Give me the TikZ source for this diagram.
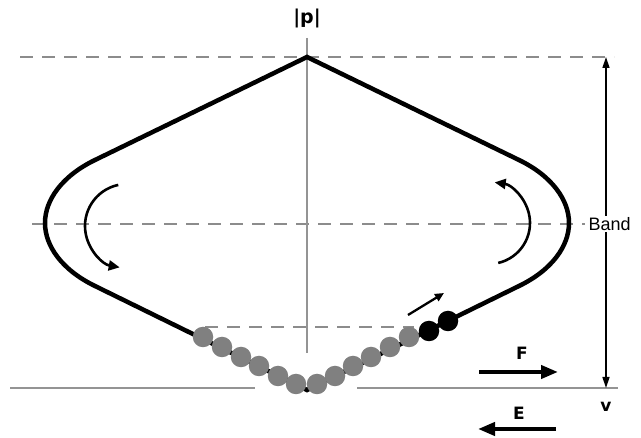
\documentclass[tikz,border=0pt]{standalone}
\usepackage{fontspec}
\newfontfamily\lblfont{DejaVu Sans}
\newfontfamily\bandfont{Liberation Sans}
\usetikzlibrary{arrows.meta}
\begin{document}
\begin{tikzpicture}[x=1pt,y=-1pt,
 gline/.style={draw=black!42,line width=1.6},
 dline/.style={draw=black!45,line width=1.8,dash pattern=on 13pt off 9pt},
 bead/.style={circle,fill=black!50,minimum size=20.5pt,inner sep=0pt},
 lbl/.style={font=\lblfont\bfseries\fontsize{17}{20}\selectfont},
 turn/.style={line width=2.6,-{Triangle[length=11pt,width=10pt]}}]
\useasboundingbox(0,0)rectangle(641,438);
\draw[dline](20,57)--(614,57);\draw[dline](32,224)--(585,224);\draw[dline](205,327)--(414,327);
\draw[gline](307,38)--(307,353);
\draw[gline](10,388)--(255,388);\draw[gline](357,388)--(618,388);
\draw[line width=4.5](307,57)--(95,160)..controls(62,176)and(45,200)..(45,223)..controls(45,246)and(62,270)..(95,286)
 --(307,390)--(519,286)..controls(552,270)and(569,246)..(569,223)..controls(569,200)and(552,176)..(519,160)--cycle;
\foreach \x/\y[count=\i] in {203/337,222/347,241/357,259/366,278/376,296/384,317/384,335/376,353/366,371/357,390/347,409/337}
 \node[bead](g\i)at(\x,\y){};
\node[bead,fill=black](k1)at(429,331){};\node[bead,fill=black](k2)at(448,321){};
\draw[turn](127,226)++(258:42)arc[start angle=258,end angle=100,radius=42];
\draw[turn](489,223)++(77:41)arc[start angle=77,end angle=-82,radius=41];
\coordinate(s1)at(408,315);\coordinate(s2)at(444,293);
\draw[line width=2.3,-{Triangle[length=9pt,width=8pt]}](s1)--(s2);
\node[lbl,font=\lblfont\bfseries\fontsize{19}{22}\selectfont](p)at(307,18){|p|};
\node[lbl](F)at(522,353){F};\coordinate(f1)at(479,372);\coordinate(f2)at(558,372);
\draw[line width=4,-{Triangle[length=17pt,width=13pt]}](f1)--(f2);
\node[lbl](E)at(519,413){E};\coordinate(e1)at(556,429);\coordinate(e2)at(478,429);
\draw[line width=4,-{Triangle[length=17pt,width=13pt]}](e1)--(e2);
\coordinate(b1)at(606,57);\coordinate(b2)at(606,388);
\draw[line width=1.4,{Triangle[length=11pt,width=7pt]}-{Triangle[length=11pt,width=7pt]}](b1)--(b2);
\node[font=\bandfont\fontsize{18}{21}\selectfont,fill=white,inner sep=1.5pt,anchor=west](band)at(587,224){Band};
\node[lbl](v)at(606,407){v};
\end{tikzpicture}
\end{document}
